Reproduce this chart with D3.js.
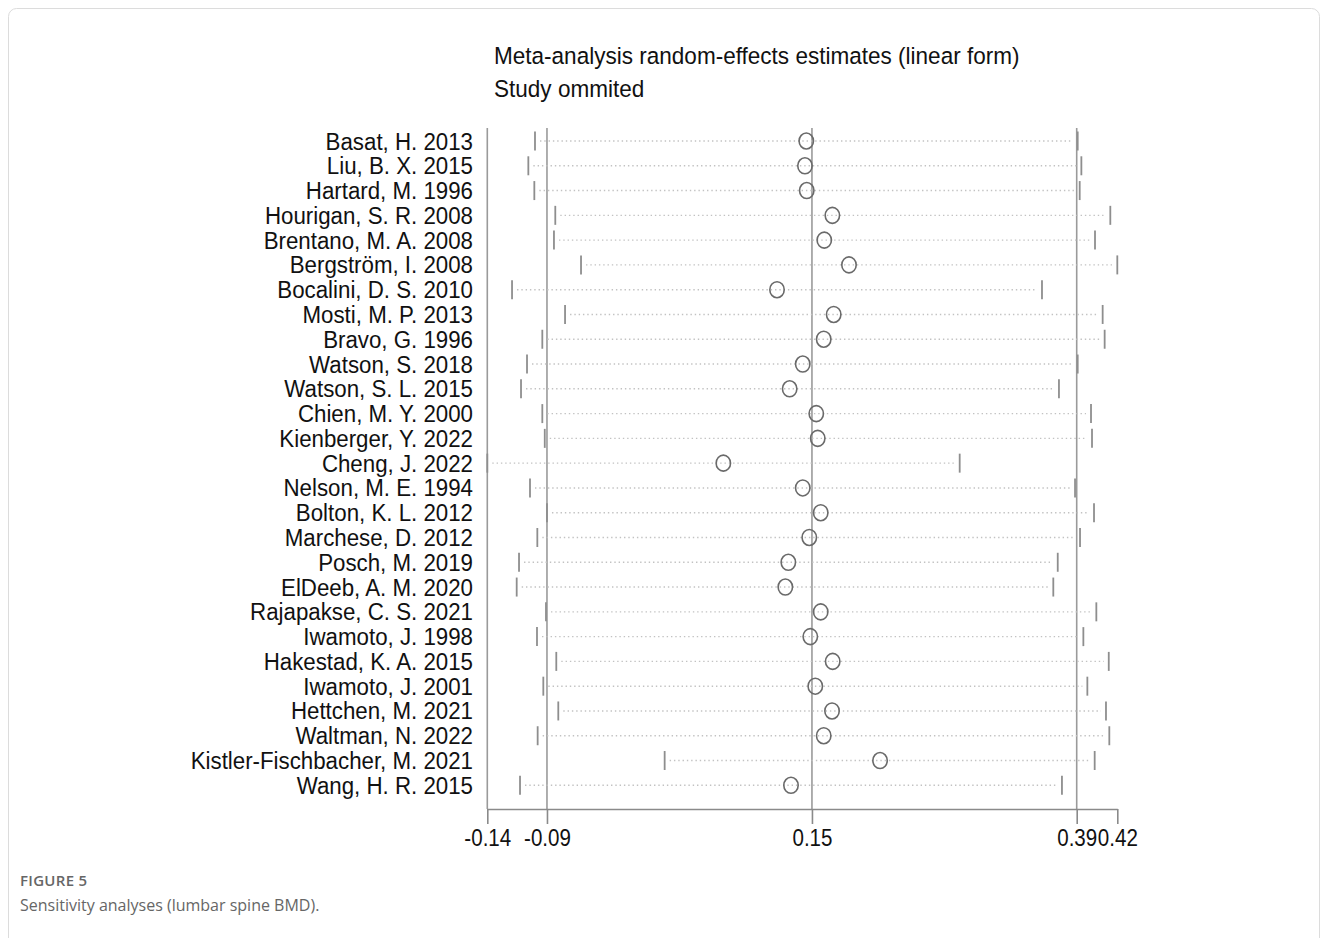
<!DOCTYPE html>
<html>
<head>
<meta charset="utf-8">
<script src="https://cdn.jsdelivr.net/npm/d3@7"></script>
<style>
  html, body { margin: 0; padding: 0; background: #fff; }
  svg { display: block; }
</style>
</head>
<body>
<svg id="chart" width="1328" height="938"></svg>
<script>
// ---- Data ----
const studies = [
  "Basat, H. 2013", "Liu, B. X. 2015", "Hartard, M. 1996", "Hourigan, S. R. 2008",
  "Brentano, M. A. 2008", "Bergström, I. 2008", "Bocalini, D. S. 2010", "Mosti, M. P. 2013",
  "Bravo, G. 1996", "Watson, S. 2018", "Watson, S. L. 2015", "Chien, M. Y. 2000",
  "Kienberger, Y. 2022", "Cheng, J. 2022", "Nelson, M. E. 1994", "Bolton, K. L. 2012",
  "Marchese, D. 2012", "Posch, M. 2019", "ElDeeb, A. M. 2020", "Rajapakse, C. S. 2021",
  "Iwamoto, J. 1998", "Hakestad, K. A. 2015", "Iwamoto, J. 2001", "Hettchen, M. 2021",
  "Waltman, N. 2022", "Kistler-Fischbacher, M. 2021", "Wang, H. R. 2015"
];
const estimate = [
  0.1436, 0.1424, 0.1440, 0.1671, 0.1598, 0.1821, 0.1172, 0.1683,
  0.1593, 0.1404, 0.1286, 0.1526, 0.1539, 0.0688, 0.1404, 0.1566,
  0.1463, 0.1274, 0.1247, 0.1566, 0.1472, 0.1674, 0.1517, 0.1668,
  0.1593, 0.2101, 0.1298
];
const lowerCI = [
  -0.1010, -0.1070, -0.1016, -0.0827, -0.0839, -0.0595, -0.1217, -0.0739,
  -0.0944, -0.1082, -0.1136, -0.0944, -0.0922, -0.1440, -0.1055, -0.0902,
  -0.0989, -0.1154, -0.1175, -0.0911, -0.0992, -0.0818, -0.0935, -0.0800,
  -0.0986, 0.0159, -0.1145
];
const upperCI = [
  0.3883, 0.3916, 0.3901, 0.4177, 0.4039, 0.4240, 0.3561, 0.4108,
  0.4126, 0.3883, 0.3714, 0.4003, 0.4012, 0.2819, 0.3859, 0.4030,
  0.3904, 0.3703, 0.3663, 0.4051, 0.3934, 0.4163, 0.3970, 0.4138,
  0.4168, 0.4036, 0.3741
];
// overall (all studies) estimate and its CI, used for reference lines
const overallEstimate = 0.1487;
const overallLower = -0.0902;
const overallUpper = 0.3874;
const tickValues = [-0.144, overallLower, overallEstimate, overallUpper, 0.424];
const tickLabels = ["-0.14", "-0.09", "0.15", "0.39", "0.42"];

const titleLines = ["Meta-analysis random-effects estimates (linear form)", "Study ommited"];
const figureLabel = "FIGURE 5";
const figureCaption = "Sensitivity analyses (lumbar spine BMD).";

// ---- Layout ----
const svg = d3.select("#chart");
const plotTop = 128, axisY = 809;
const fontFam = "'Liberation Sans', Arial, sans-serif";
const fs = 24.5, sx = 0.91;

const x = d3.scaleLinear().domain([d3.min(lowerCI), d3.max(upperCI)]).range([487.3, 1117.3]);
const y = d3.scalePoint().domain(studies).range([141, 785.3]);

// card frame
svg.append("rect")
  .attr("x", 8.5).attr("y", 8.5).attr("width", 1311).attr("height", 940)
  .attr("rx", 8).attr("fill", "none").attr("stroke", "#dcdcdc").attr("stroke-width", 1);

// titles
svg.selectAll("text.title").data(titleLines).enter().append("text")
  .attr("class", "title")
  .attr("transform", (d, i) => `translate(494,${64 + i * 33}) scale(0.92,1)`)
  .attr("font-family", fontFam).attr("font-size", fs).attr("fill", "#111")
  .text(d => d);

// vertical reference lines (left boundary + overall CI/estimate)
const vlines = [d3.min(lowerCI), overallLower, overallEstimate, overallUpper];
svg.selectAll("line.vref").data(vlines).enter().append("line")
  .attr("class", "vref")
  .attr("x1", d => x(d)).attr("x2", d => x(d))
  .attr("y1", plotTop).attr("y2", axisY)
  .attr("stroke", "#9a9a9a").attr("stroke-width", 1.6);

// axis
const axis = d3.axisBottom(x).tickValues(tickValues)
  .tickFormat((d, i) => tickLabels[i]).tickSize(15).tickSizeOuter(0).tickPadding(4);
const gAxis = svg.append("g").attr("transform", `translate(0,${axisY})`).call(axis);
gAxis.select(".domain").attr("stroke", "#8a8a8a").attr("stroke-width", 1.6);
gAxis.selectAll(".tick line").attr("stroke", "#8a8a8a").attr("stroke-width", 1.6);
gAxis.selectAll(".tick text")
  .attr("font-family", fontFam).attr("font-size", 24.5).attr("fill", "#111")
  .attr("y", 37).attr("dy", 0)
  .attr("transform", `scale(0.84,1)`);

// rows
const rows = svg.append("g").selectAll("g.row").data(studies).enter().append("g")
  .attr("class", "row");

// dotted CI lines
rows.append("line")
  .attr("x1", (d, i) => x(lowerCI[i]) + 5).attr("x2", (d, i) => x(upperCI[i]) - 5)
  .attr("y1", d => y(d)).attr("y2", d => y(d))
  .attr("stroke", "#c2c2c2").attr("stroke-width", 1.4)
  .attr("stroke-dasharray", "1.4,2.9");

// CI end markers
rows.append("line")
  .attr("x1", (d, i) => x(lowerCI[i])).attr("x2", (d, i) => x(lowerCI[i]))
  .attr("y1", d => y(d) - 9.5).attr("y2", d => y(d) + 9.5)
  .attr("stroke", "#8e8e8e").attr("stroke-width", 1.8);
rows.append("line")
  .attr("x1", (d, i) => x(upperCI[i])).attr("x2", (d, i) => x(upperCI[i]))
  .attr("y1", d => y(d) - 9.5).attr("y2", d => y(d) + 9.5)
  .attr("stroke", "#8e8e8e").attr("stroke-width", 1.8);

// estimates
rows.append("ellipse")
  .attr("cx", (d, i) => x(estimate[i])).attr("cy", d => y(d))
  .attr("rx", 7.2).attr("ry", 8)
  .attr("fill", "none").attr("stroke", "#6a6a6a").attr("stroke-width", 1.6);

// study labels
rows.append("text")
  .attr("transform", d => `translate(473,${y(d) + 8.5}) scale(${sx},1)`)
  .attr("text-anchor", "end")
  .attr("font-family", fontFam).attr("font-size", fs).attr("fill", "#111")
  .text(d => d);

// caption
svg.append("text").attr("x", 20).attr("y", 886)
  .attr("font-family", "'Open Sans', 'Noto Sans', sans-serif").attr("font-size", 15)
  .attr("font-weight", 600).attr("fill", "#666").attr("letter-spacing", 0.3)
  .text(figureLabel);
svg.append("text").attr("x", 20).attr("y", 911)
  .attr("font-family", "'Open Sans', 'Noto Sans', sans-serif").attr("font-size", 16)
  .attr("fill", "#666")
  .text(figureCaption);
</script>
</body>
</html>
